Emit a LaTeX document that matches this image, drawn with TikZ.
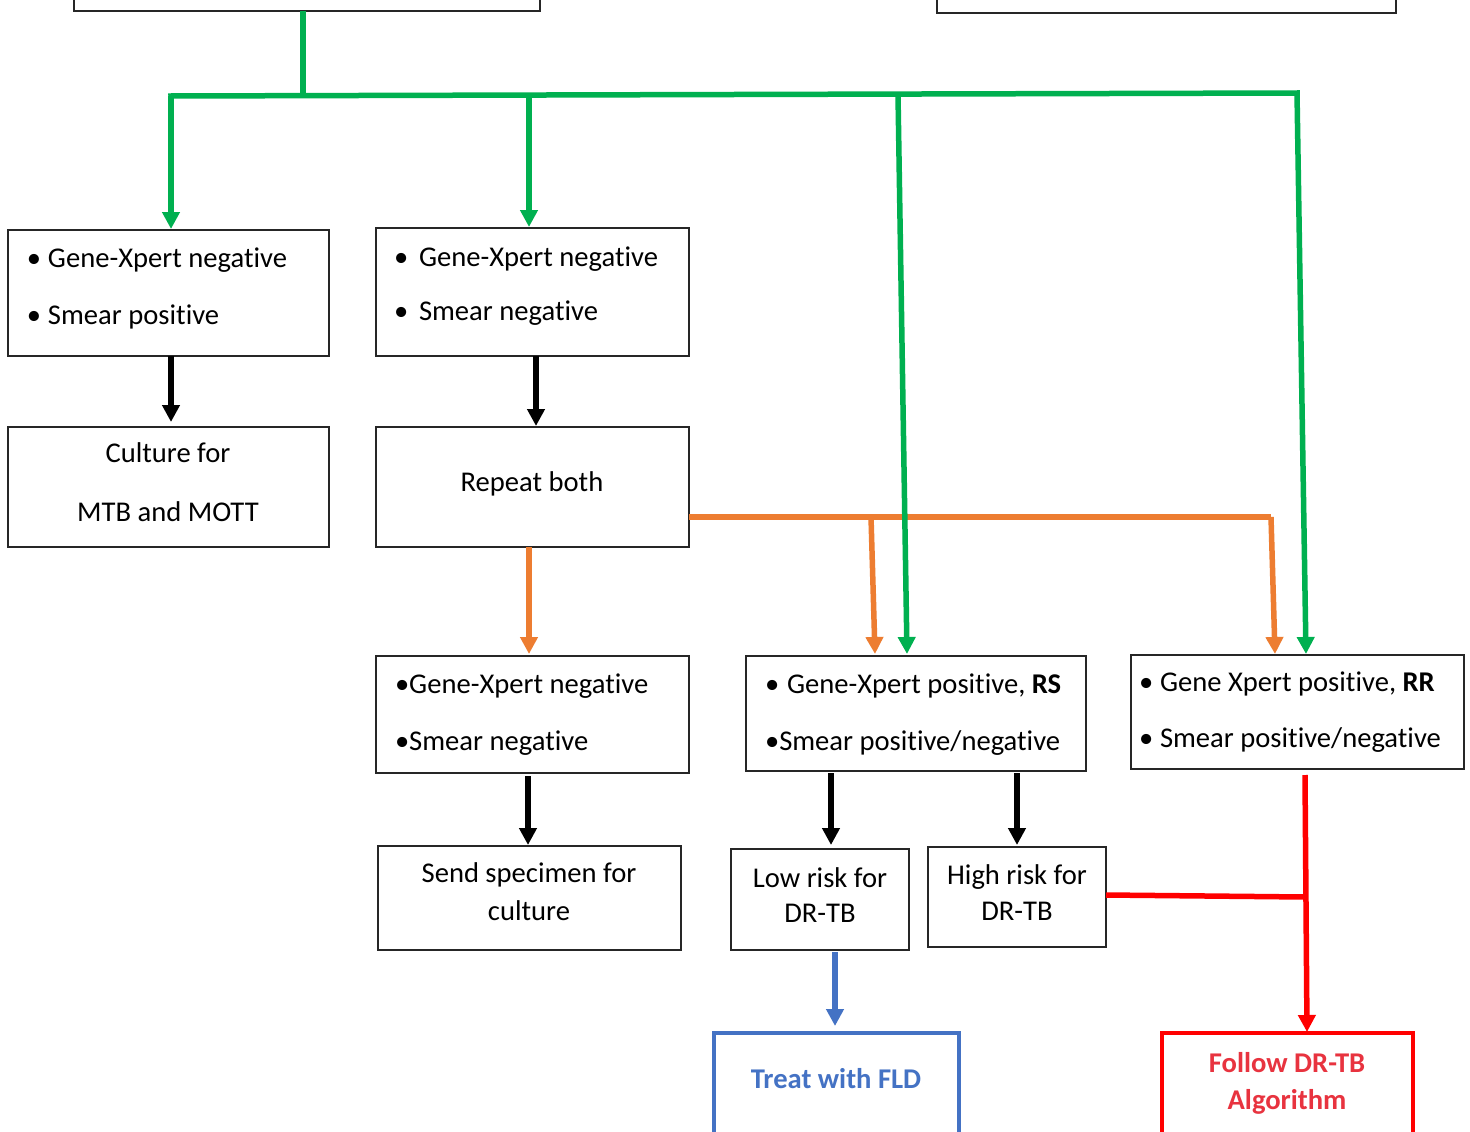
\documentclass[tikz,border=0pt]{standalone}
\usepackage{fontspec}
\setmainfont[RawFeature={-liga;-clig;-calt;-dlig}]{Carlito}
\usetikzlibrary{arrows.meta,fit,calc}
\definecolor{cgreen}{HTML}{00B050}
\definecolor{corange}{HTML}{ED7D31}
\definecolor{cblue}{HTML}{4472C4}
\definecolor{cred}{HTML}{FF0000}
\definecolor{ctextred}{HTML}{E8333F}
\newcommand{\myti}{t\kern0pt i}
\begin{document}
\begin{tikzpicture}[x=1pt,y=-1pt,
  box/.style={draw=black!85, line width=1.4pt, inner sep=0pt, outer sep=0pt},
  txt/.style={inner sep=0pt, outer sep=0pt, font=\fontsize{28.6}{34}\selectfont},
  lt/.style={txt, anchor=base west},
  ct/.style={txt, anchor=base},
  conn/.style={line width=5.5pt},
  arr/.style={conn, -{Triangle[width=17pt,length=17pt]}},
]
\useasboundingbox (0,0) rectangle (1470,1132);
\clip (0,0) rectangle (1470,1132);
\fill[white] (0,0) rectangle (1470,1132);

% ---------- boxes ----------
\node[box, fit={(74,-60) (540,11)}] (T1) {};
\node[box, fit={(937,-60) (1396,13)}] (T2) {};
\node[box, fit={(8,230) (329,356)}] (A) {};
\node[box, fit={(376,228) (689,356)}] (B) {};
\node[box, fit={(8,427) (329,547)}] (C) {};
\node[box, fit={(376,427) (689,547)}] (D) {};
\node[box, fit={(376,656) (689,773)}] (E) {};
\node[box, fit={(746,656) (1086,771)}] (F) {};
\node[box, fit={(1131,655) (1464,769)}] (G) {};
\node[box, fit={(378,846) (681,950)}] (H) {};
\node[box, fit={(731,849) (909,950)}] (I) {};
\node[box, fit={(928,847) (1106,947)}] (J) {};
\node[box, draw=cblue, line width=3.5pt, fit={(714,1033) (959,1200)}] (K) {};
\node[box, draw=cred, line width=3.5pt, fit={(1162,1033) (1413,1200)}] (L) {};

% ---------- texts ----------
\node[lt] (a1) at (27,267) {\makebox[21pt][l]{•}Gene-Xpert nega\myti ve};
\node[lt] (a2) at (27,324) {\makebox[21pt][l]{•}Smear posi\myti ve};
\node[lt] (b1) at (394,266) {\makebox[25pt][l]{•}Gene-Xpert nega\myti ve};
\node[lt] (b2) at (394,320) {\makebox[25pt][l]{•}Smear nega\myti ve};
\node[ct] (c1) at (168,462) {Culture for};
\node[ct] (c2) at (168,521) {MTB and MOTT};
\node[ct] (d1) at (532,491) {Repeat both};
\node[lt] (e1) at (395,693) {•Gene-Xpert nega\myti ve};
\node[lt] (e2) at (395,750) {•Smear nega\myti ve};
\node[lt] (f1) at (765,693) {\makebox[22pt][l]{•}Gene-Xpert posi\myti ve, \textbf{RS}};
\node[lt] (f2) at (765,750) {•Smear posi\myti ve/nega\myti ve};
\node[lt] (g1) at (1139,691) {\makebox[21pt][l]{•}Gene Xpert posi\myti ve, \textbf{RR}};
\node[lt] (g2) at (1139,747) {\makebox[21pt][l]{•}Smear posi\myti ve/nega\myti ve};
\node[ct] (h1) at (529,882) {Send specimen for};
\node[ct] (h2) at (529,920) {culture};
\node[ct] (i1) at (820,887) {Low risk for};
\node[ct] (i2) at (820,922) {DR-TB};
\node[ct] (j1) at (1017,884) {High risk for};
\node[ct] (j2) at (1017,920) {DR-TB};
\node[ct, text=cblue, font=\fontsize{28.6}{34}\selectfont\bfseries] (k1) at (836,1088) {Treat with FLD};
\node[ct, text=ctextred, font=\fontsize{28.6}{34}\selectfont\bfseries] (l1) at (1287,1072) {Follow DR-TB};
\node[ct, text=ctextred, font=\fontsize{28.6}{34}\selectfont\bfseries] (l2) at (1287,1109) {Algorithm};

% ---------- helper coordinates ----------
\coordinate (g0) at (303,95);
\coordinate (gL) at (171,96);
\coordinate (gB) at (529,95);
\coordinate (gF) at (898,95);
\coordinate (gR) at (1297,93);
\coordinate (xF) at (907,0);
\coordinate (xG) at (1306,0);
\coordinate (oD) at (689,517);
\coordinate (oF) at (871,517);
\coordinate (oR) at (1271,517);
\coordinate (xoF) at (875,0);
\coordinate (xoG) at (1275,0);
\coordinate (xoE) at (529,0);
\coordinate (xAC) at (171,0);
\coordinate (xBD) at (536,0);
\coordinate (xEH) at (528,0);
\coordinate (xFI) at (831,0);
\coordinate (xFJ) at (1017,0);
\coordinate (xIK) at (835,0);
\coordinate (rT) at (1305,775);
\coordinate (rJ) at (1305,895);
\coordinate (xL) at (1307,0);

% ---------- black arrows ----------
\draw[arr, black] (A.south -| xAC) -- ($(C.north -| xAC)+(0,-5)$);
\draw[arr, black] (B.south -| xBD) -- ($(D.north -| xBD)+(0,-1)$);
\draw[arr, black] ($(E.south -| xEH)+(0,3)$) -- ($(H.north -| xEH)+(0,-1)$);
\draw[arr, black] ($(F.south -| xFI)+(0,2)$) -- ($(I.north -| xFI)+(0,-4)$);
\draw[arr, black] ($(F.south -| xFJ)+(0,2)$) -- ($(J.north -| xFJ)+(0,-2)$);

% ---------- orange ----------
\draw[conn, corange] (oD) -- (oR);
\draw[arr, corange] (D.south -| xoE) -- ($(E.north -| xoE)+(0,-2)$);
\draw[arr, corange] (oF) -- ($(F.north -| xoF)+(0,-2)$);
\draw[arr, corange] (oR) -- ($(G.north -| xoG)+(0,-1)$);

% ---------- green ----------
\draw[conn, cgreen] (T1.south -| g0) -- (g0);
\draw[conn, cgreen, line cap=rect] (gL) -- (gR);
\draw[arr, cgreen] (gL) -- ($(A.north -| gL)+(0,-1)$);
\draw[arr, cgreen] (gB) -- ($(B.north -| gB)+(0,-1)$);
\draw[arr, cgreen] (gF) -- ($(F.north -| xF)+(0,-2)$);
\draw[arr, cgreen] (gR) -- ($(G.north -| xG)+(0,-1)$);

% ---------- red ----------
\draw[conn, cred] (J.east |- rJ) -- ([yshift=-2pt]rJ);
\draw[arr, cred] (rT) -- ($(L.north -| xL)+(0,-1)$);

% ---------- blue ----------
\draw[arr, cblue] ($(I.south -| xIK)+(0,2)$) -- ($(K.north -| xIK)+(0,-7)$);
\end{tikzpicture}
\end{document}
